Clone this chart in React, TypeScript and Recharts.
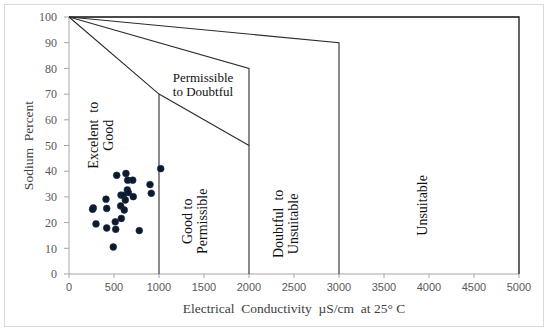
import { ScatterChart, Scatter, XAxis, YAxis, ReferenceDot } from 'recharts';

// EC (µS/cm) and Na% for each sample
const ecValues = [1019, 530, 633, 652, 708, 900, 914, 648, 659, 578, 603, 714, 411, 626, 574, 270, 419, 614, 581, 514, 300, 419, 519, 781, 492, 262];
const naValues = [41.0, 38.4, 39.1, 36.5, 36.5, 34.8, 31.4, 32.7, 31.7, 30.7, 30.6, 30.1, 29.1, 28.8, 26.5, 25.7, 25.5, 24.9, 21.6, 20.3, 19.5, 17.9, 17.4, 16.9, 10.5, 25.2];

const samples = ecValues.map((ec, i) => ({ ec, na: naValues[i] }));

// Wilcox class boundaries
const lowerCurve = [{ ec: 0, na: 100 }, { ec: 1000, na: 70 }, { ec: 2000, na: 50 }];
const goodEdge = [{ ec: 1000, na: 70 }, { ec: 1000, na: 0 }];
const permissibleEdge = [{ ec: 0, na: 100 }, { ec: 2000, na: 80 }, { ec: 2000, na: 0 }];
const doubtfulEdge = [{ ec: 0, na: 100 }, { ec: 3000, na: 90 }, { ec: 3000, na: 0 }];
const outerEdge = [{ ec: 0, na: 100 }, { ec: 5000, na: 100 }, { ec: 5000, na: 0 }];

const xTicks = [0, 500, 1000, 1500, 2000, 2500, 3000, 3500, 4000, 4500, 5000];
const yTicks = [0, 10, 20, 30, 40, 50, 60, 70, 80, 90, 100];

const regions = [
  { lines: ['Excelent  to', 'Good'], ec: 356, na: 54, rotate: true },
  { lines: ['Good to', 'Permissible'], ec: 1400, na: 20.5, rotate: true },
  { lines: ['Doubtful  to', 'Unsuitable'], ec: 2410, na: 19.5, rotate: true },
  { lines: ['Unsuitable'], ec: 3933, na: 26.7, rotate: true },
  { lines: ['Permissible', 'to Doubtful'], ec: 1489, na: 73.6, rotate: false },
];

const SERIF = '"Liberation Serif", "Times New Roman", serif';
const boundaryLine = { stroke: '#2b2b2b', strokeWidth: 1.1 };
const noDot = () => <g />;

function regionLabel(lines: string[], rotate: boolean) {
  return (props: any) => {
    const vb = props.viewBox || {};
    const cx = vb.x + (vb.width || 0) / 2;
    const cy = vb.y + (vb.height || 0) / 2;
    const step = rotate ? 15 : 14;
    const start = -((lines.length - 1) * step) / 2;
    return (
      <g transform={rotate ? `rotate(-90, ${cx}, ${cy})` : undefined}>
        {lines.map((t, i) => (
          <text
            key={t}
            x={cx}
            y={cy + start + i * step}
            textAnchor="middle"
            dominantBaseline="central"
            fontFamily={SERIF}
            fontSize={rotate ? 14 : 13}
            fill="#111"
            style={{ whiteSpace: 'pre' }}
          >
            {t}
          </text>
        ))}
      </g>
    );
  };
}

export default function App() {
  return (
    <div style={{ position: 'absolute', left: 0, top: 0, width: 550, height: 334, background: '#fff' }}>
      <div style={{ position: 'absolute', left: 4, top: 4, width: 538, height: 321, border: '1px solid #d9d9d9' }} />
      <ScatterChart width={550} height={334} margin={{ top: 17, right: 31, left: 0, bottom: 0 }}>
        <XAxis
          type="number"
          dataKey="ec"
          domain={[0, 5000]}
          ticks={xTicks}
          interval={0}
          height={60}
          tickSize={4}
          tickMargin={5}
          axisLine={{ stroke: '#a6a6a6' }}
          tickLine={{ stroke: '#a6a6a6' }}
          tick={{ fill: '#595959', fontSize: 11, fontFamily: '"Liberation Sans", Arial, sans-serif' }}
          label={{
            content: (p: any) => {
              const vb = p.viewBox;
              return (
                <text x={vb.x + vb.width / 2} y={vb.y + 34} textAnchor="middle" dominantBaseline="central" fontFamily={SERIF} fontSize={13.5} fill="#404040" style={{ whiteSpace: 'pre' }}>
                  {'Electrical  Conductivity  µS/cm  at 25° C'}
                </text>
              );
            },
          }}
        />
        <YAxis
          type="number"
          dataKey="na"
          domain={[0, 100]}
          ticks={yTicks}
          interval={0}
          width={69}
          tickSize={5}
          tickMargin={7}
          axisLine={{ stroke: '#a6a6a6' }}
          tickLine={{ stroke: '#a6a6a6' }}
          tick={{ fill: '#595959', fontSize: 12, fontFamily: SERIF }}
          label={{
            content: (p: any) => {
              const vb = p.viewBox;
              const x = vb.x + 28;
              const y = vb.y + vb.height / 2;
              return (
                <text x={x} y={y} transform={`rotate(-90, ${x}, ${y})`} textAnchor="middle" dominantBaseline="central" fontFamily={SERIF} fontSize={13.5} fill="#404040" style={{ whiteSpace: 'pre' }}>
                  {'Sodium  Percent'}
                </text>
              );
            },
          }}
        />
        <Scatter data={outerEdge} line={{ stroke: '#111', strokeWidth: 1.3 }} shape={noDot} isAnimationActive={false} />
        <Scatter data={doubtfulEdge} line={boundaryLine} shape={noDot} isAnimationActive={false} />
        <Scatter data={permissibleEdge} line={boundaryLine} shape={noDot} isAnimationActive={false} />
        <Scatter data={lowerCurve} line={boundaryLine} shape={noDot} isAnimationActive={false} />
        <Scatter data={goodEdge} line={boundaryLine} shape={noDot} isAnimationActive={false} />
        <Scatter
          data={samples}
          isAnimationActive={false}
          shape={(p: any) => <circle cx={p.cx} cy={p.cy} r={3.4} fill="#0c1a2c" stroke="#1d2f4a" strokeWidth={0.6} />}
        />
        {regions.map((r) => (
          <ReferenceDot key={r.lines.join()} x={r.ec} y={r.na} r={1} fill="none" stroke="none" label={regionLabel(r.lines, r.rotate)} />
        ))}
      </ScatterChart>
    </div>
  );
}
